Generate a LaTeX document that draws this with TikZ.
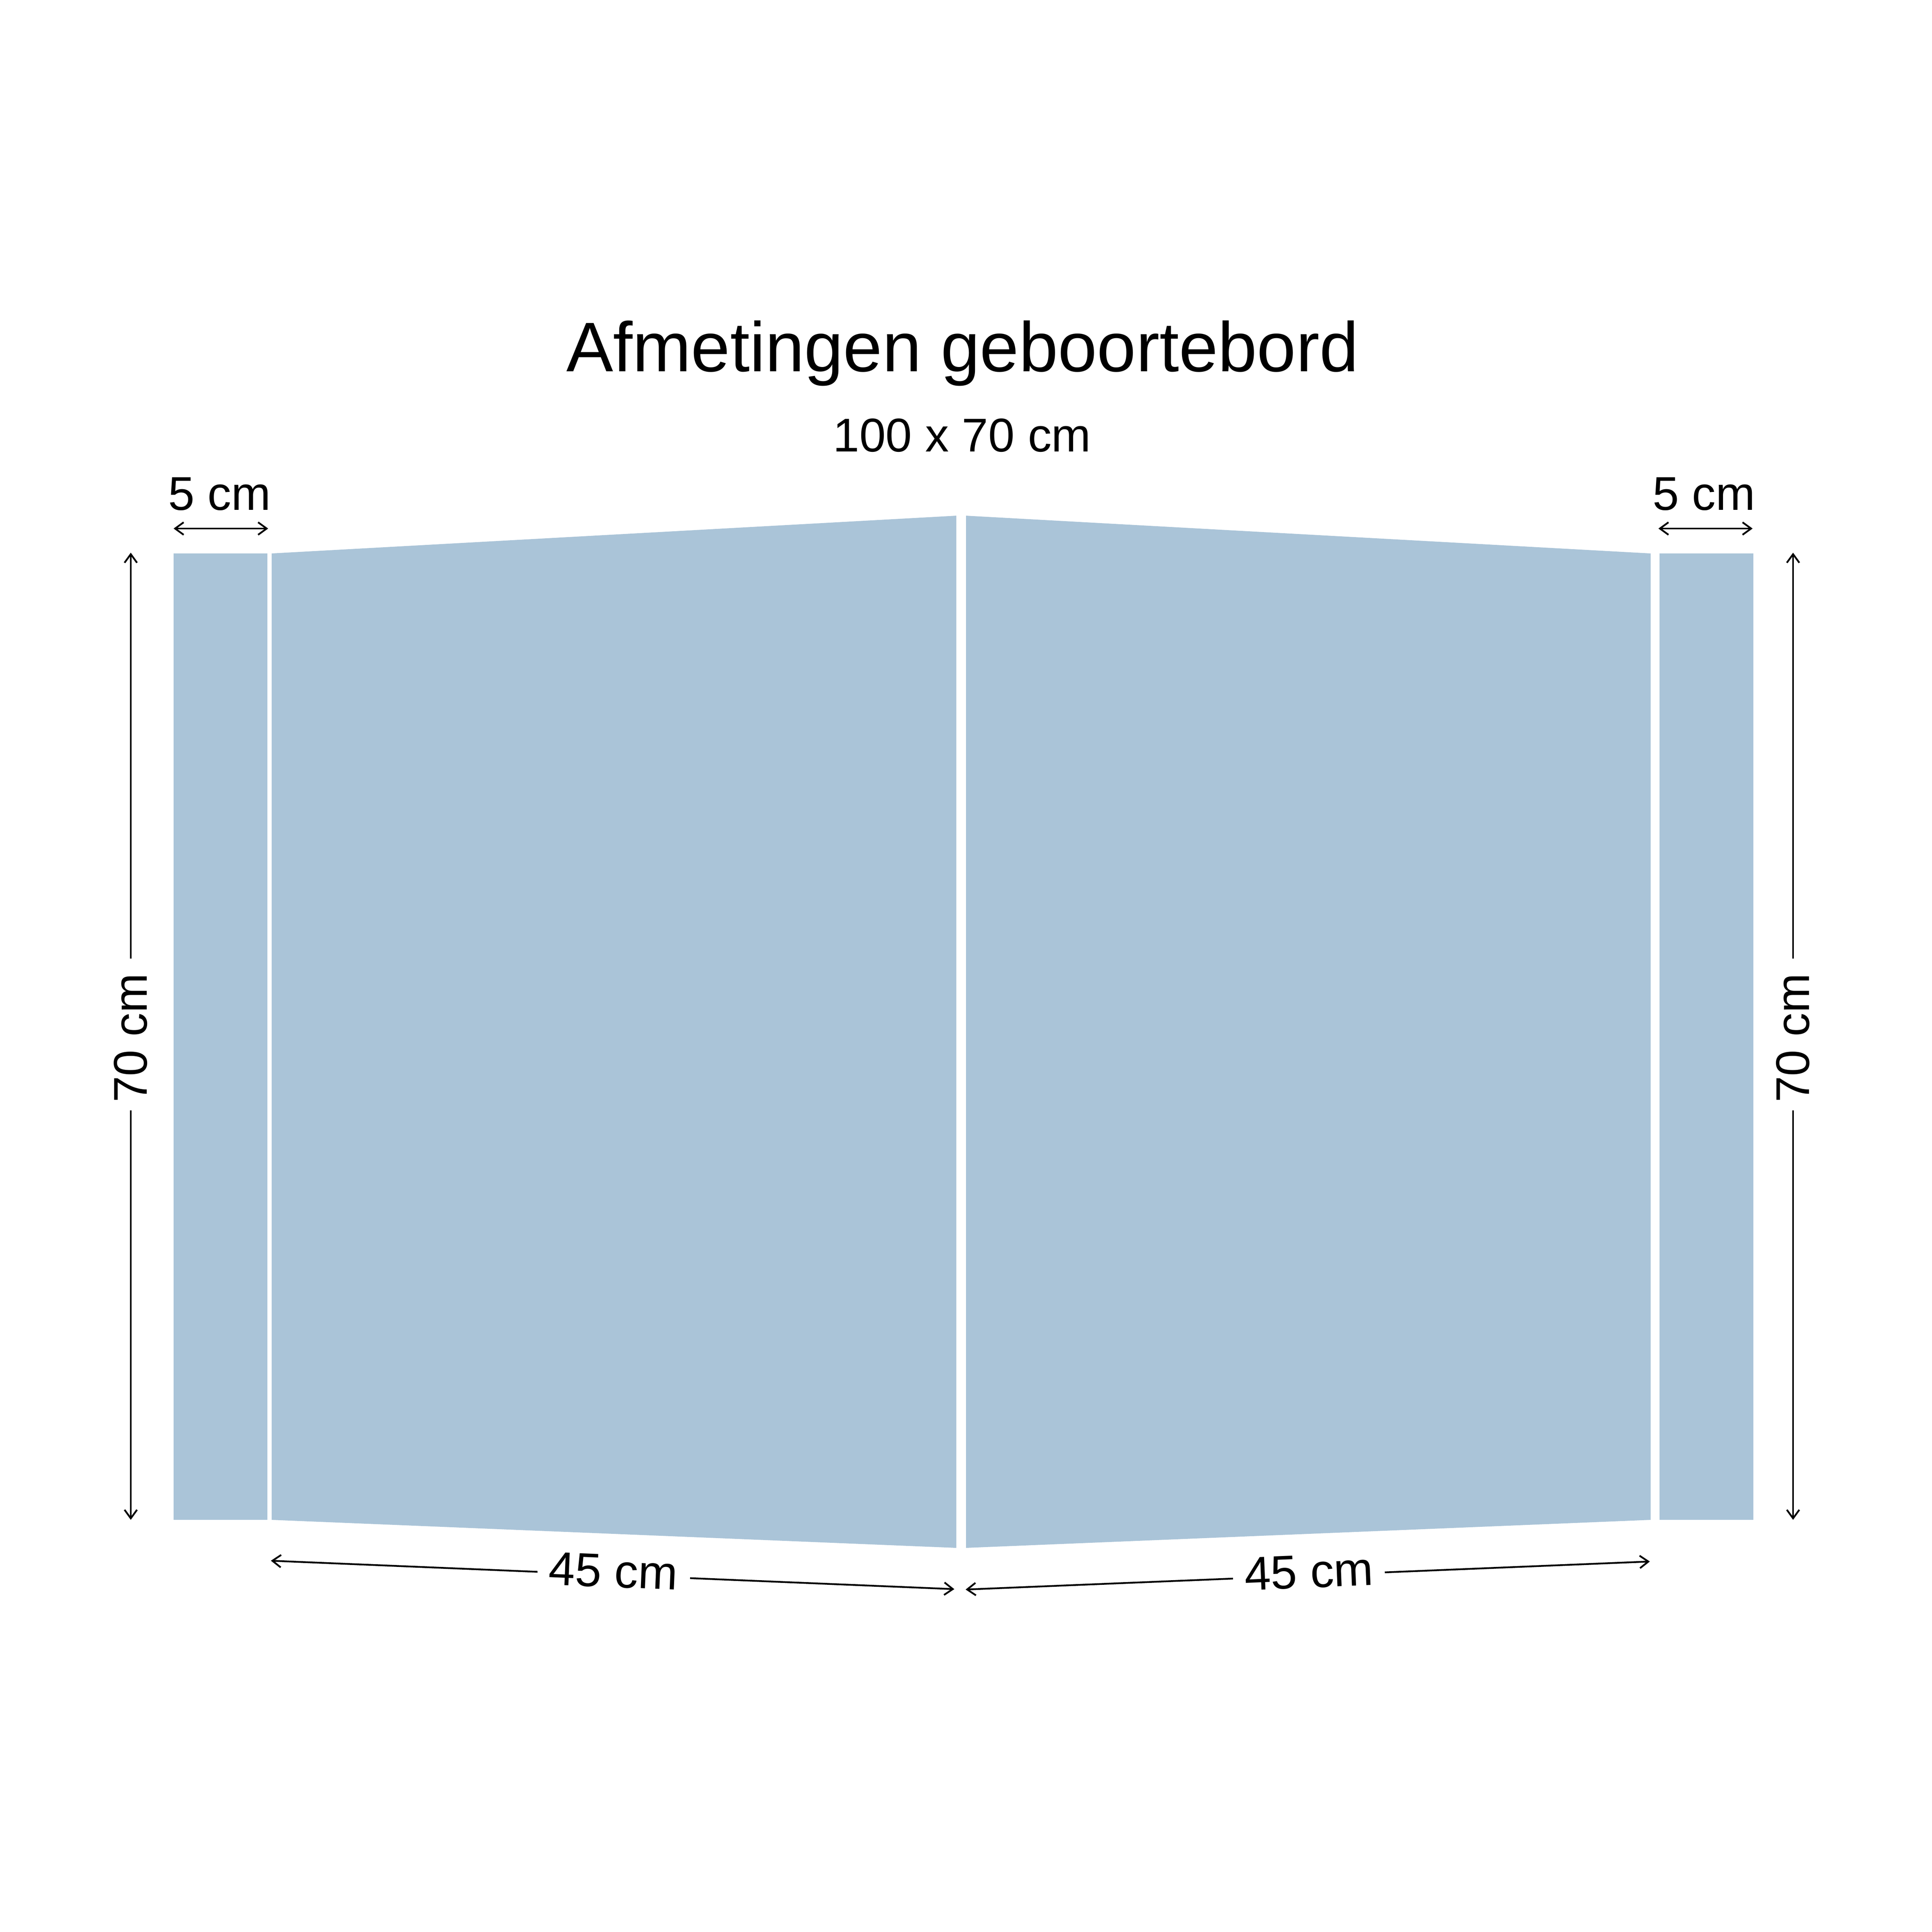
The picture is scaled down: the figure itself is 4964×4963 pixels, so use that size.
\documentclass[tikz,border=0pt]{standalone}
\usepackage{fontspec}
\setmainfont{Liberation Sans}
\usetikzlibrary{arrows.meta}
\definecolor{panelblue}{RGB}{170,196,216}
\begin{document}
\begin{tikzpicture}[x=0.01cm,y=-0.01cm,
  panel/.style={fill=panelblue},
  dim/.style={line width=0.045cm, draw=black},
  >={Straight Barb[length=0.22cm,width=0.32cm]},
  lbl/.style={font=\fontsize{34.6pt}{41pt}\selectfont, inner sep=0pt},
  ttl/.style={font=\fontsize{51.3pt}{60pt}\selectfont, inner sep=0pt}]
\fill[white] (0,0) rectangle (4964,4963);
\useasboundingbox (0,0) rectangle (4964,4963);

% panels
\fill[panel] (446,1422) rectangle (687,3905);
\fill[panel] (698,1422) -- (2457,1325) -- (2457,3977) -- (698,3905) -- cycle;
\fill[panel] (2482,1325) -- (4241,1422) -- (4241,3905) -- (2482,3977) -- cycle;
\fill[panel] (4264,1422) rectangle (4505,3905);

% texts
\node[ttl, anchor=base] (title) at (2473,954) {Afmetingen geboortebord};
\node[lbl, anchor=base] (size) at (2472,1160) {100 x 70 cm};
\node[lbl, anchor=base] (w5l) at (564,1310) {5 cm};
\node[lbl, anchor=base] (w5r) at (4378,1310) {5 cm};
\node[lbl, rotate=90] (h70l) at (336,2667) {70 cm};
\node[lbl, rotate=90] (h70r) at (4607,2667) {70 cm};
\node[lbl, rotate=-2.38] (w45l) at (1576,4037) {45 cm};
\node[lbl, rotate=2.35] (w45r) at (3363,4038) {45 cm};

% dimension line end points
\coordinate (l5a) at (446,1358);
\coordinate (l5b) at (689,1358);
\coordinate (r5a) at (4261,1358);
\coordinate (r5b) at (4503,1358);
\coordinate (lvt) at (336,1420);
\coordinate (lvg1) at (336,2463);
\coordinate (lvg2) at (336,2853);
\coordinate (lvb) at (336,3905);
\coordinate (rvt) at (4607,1420);
\coordinate (rvg1) at (4607,2463);
\coordinate (rvg2) at (4607,2853);
\coordinate (rvb) at (4607,3905);
\coordinate (bla) at (696,4010);
\coordinate (blg1) at (1381,4038.5);
\coordinate (blg2) at (1773,4054.8);
\coordinate (blb) at (2452,4083);
\coordinate (bra) at (2481,4084);
\coordinate (brg1) at (3168,4055.9);
\coordinate (brg2) at (3558,4039.9);
\coordinate (brb) at (4239,4012);

% dimension lines
\draw[dim,<->] (l5a) -- (l5b);
\draw[dim,<->] (r5a) -- (r5b);
\draw[dim,<-] (lvt) -- (lvg1);
\draw[dim,->] (lvg2) -- (lvb);
\draw[dim,<-] (rvt) -- (rvg1);
\draw[dim,->] (rvg2) -- (rvb);
\draw[dim,<-] (bla) -- (blg1);
\draw[dim,->] (blg2) -- (blb);
\draw[dim,<-] (bra) -- (brg1);
\draw[dim,->] (brg2) -- (brb);
\end{tikzpicture}
\end{document}
